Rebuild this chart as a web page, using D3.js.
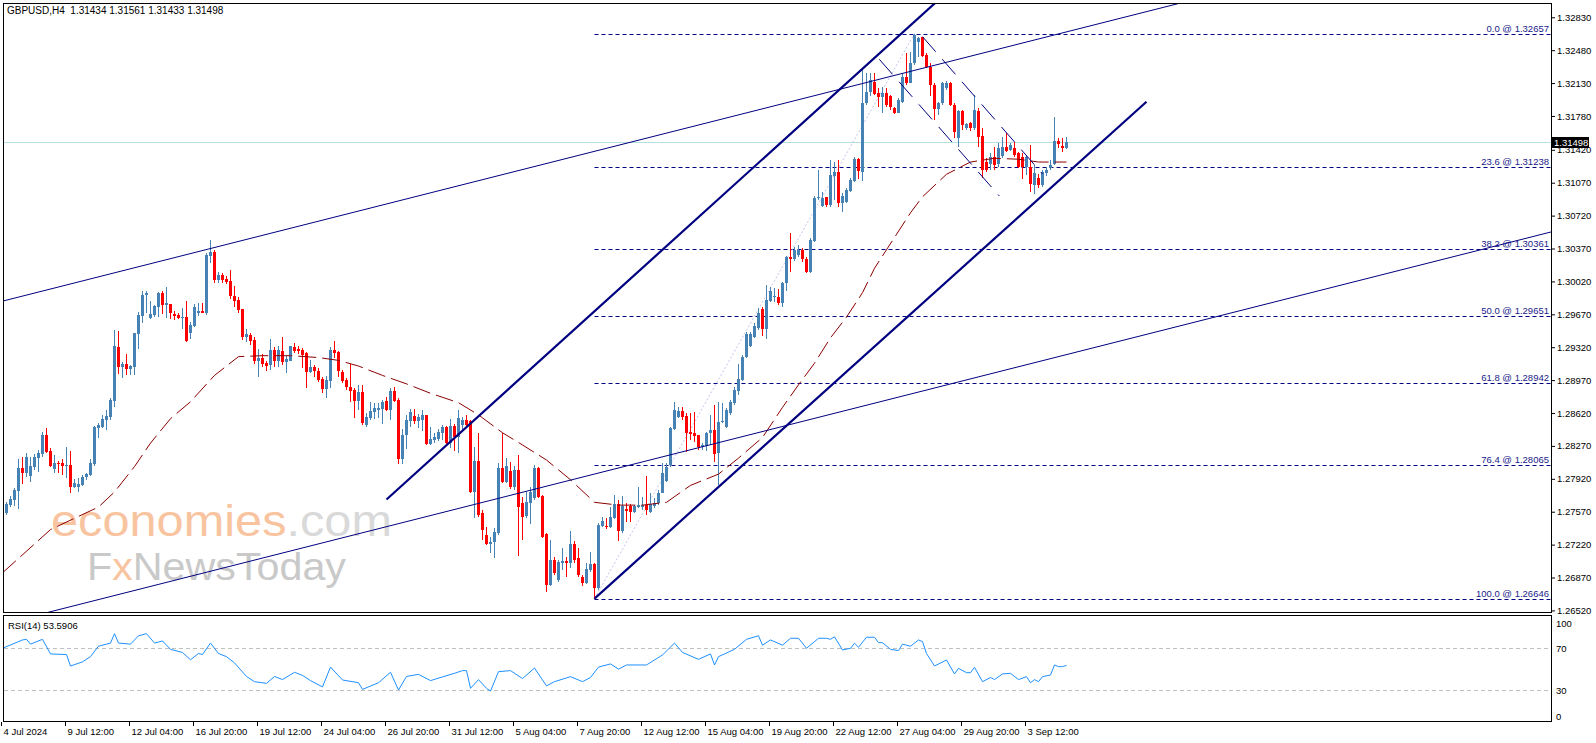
<!DOCTYPE html>
<html>
<head>
<meta charset="utf-8">
<title>GBPUSD,H4</title>
<script src="https://cdn.jsdelivr.net/npm/d3@7/dist/d3.min.js"></script>
<style>
  body { margin: 0; background: #fff; }
  svg { display: block; font-family: "Liberation Sans", Arial, sans-serif; }
</style>
</head>
<body>
<div id="chart"></div>
<script>
// ---- values (bar 0 = 4 Jul 2024 20:00) ----
const header = "GBPUSD,H4  1.31434 1.31561 1.31433 1.31498";

const opens = [
  1.2762,1.2756,1.2764,1.2769,1.2779,1.2804,1.2798,1.2795,1.2805,1.2814,
  1.2818,1.2839,1.2822,1.2802,1.2809,1.2809,1.2806,1.2807,1.2783,1.2783,
  1.2785,1.2794,1.2796,1.2808,1.2846,1.2847,1.2855,1.2858,1.2875,1.2932,
  1.2911,1.2914,1.2909,1.2911,1.2946,1.2965,1.2988,1.2963,1.2966,1.2975,
  1.2990,1.2977,1.2978,1.2967,1.2966,1.2963,1.2964,1.2947,1.2955,1.2968,
  1.2971,1.2968,1.3029,1.3033,1.3004,1.3009,1.3005,1.3002,1.2987,1.2982,
  1.2973,1.2943,1.2945,1.2940,1.2917,1.2921,1.2915,1.2913,1.2929,1.2917,
  1.2928,1.2916,1.2917,1.2932,1.2930,1.2929,1.2926,1.2906,1.2911,1.2907,
  1.2898,1.2888,1.2896,1.2929,1.2927,1.2906,1.2897,1.2890,1.2887,1.2875,
  1.2884,1.2849,1.2857,1.2863,1.2865,1.2866,1.2875,1.2865,1.2885,1.2876,
  1.2813,1.2839,1.2854,1.2859,1.2854,1.2855,1.2860,1.2829,1.2833,1.2834,
  1.2841,1.2847,1.2830,1.2848,1.2837,1.2849,1.2855,1.2854,1.2778,1.2811,
  1.2756,1.2732,1.2723,1.2725,1.2734,1.2804,1.2789,1.2800,1.2783,1.2801,
  1.2766,1.2752,1.2766,1.2772,1.2804,1.2774,1.2733,1.2679,1.2706,1.2684,
  1.2702,1.2705,1.2702,1.2723,1.2708,1.2688,1.2681,1.2695,1.2701,1.2676,
  1.2742,1.2742,1.2741,1.2750,1.2765,1.2737,1.2760,1.2763,1.2757,1.2762,
  1.2762,1.2764,1.2757,1.2763,1.2766,1.2777,1.2790,1.2807,1.2845,1.2858,
  1.2864,1.2859,1.2842,1.2841,1.2839,1.2826,1.2827,1.2841,1.2844,1.2819,
  1.2852,1.2847,1.2862,1.2873,1.2885,1.2897,1.2922,1.2933,1.2943,1.2952,
  1.2973,1.2951,1.2981,1.2985,1.2985,1.2979,1.3000,1.3028,1.3026,1.3030,
  1.3035,1.3026,1.3012,1.3045,1.3091,1.3082,1.3092,1.3083,1.3114,1.3118,
  1.3085,1.3087,1.3098,1.3109,1.3132,1.3118,1.3192,1.3203,1.3214,1.3202,
  1.3198,1.3202,1.3199,1.3187,1.3181,1.3193,1.3219,1.3213,1.3234,1.3257,
  1.3262,1.3243,1.3230,1.3211,1.3185,1.3192,1.3208,1.3213,1.3190,1.3155,
  1.3183,1.3165,1.3171,1.3165,1.3183,1.3157,1.3129,1.3127,1.3134,1.3127,
  1.3135,1.3145,1.3142,1.3144,1.3139,1.3134,1.3124,1.3124,1.3105,1.3112,
  1.3105,1.3117,1.3123,1.3127,1.3151,1.3146,1.31434
];
const highs = [
  1.2764,1.2767,1.2774,1.2782,1.2813,1.2815,1.2819,1.2815,1.2818,1.2823,
  1.2842,1.2846,1.2825,1.2817,1.2811,1.2813,1.2826,1.2822,1.2792,1.2793,
  1.2796,1.2798,1.2813,1.2848,1.2851,1.2860,1.2865,1.2878,1.2950,1.2949,
  1.2916,1.2925,1.2913,1.2947,1.2969,1.2992,1.2992,1.2981,1.2977,1.2991,
  1.2992,1.2996,1.2978,1.2971,1.2968,1.2974,1.2981,1.2959,1.2978,1.2979,
  1.2979,1.3032,1.3046,1.3035,1.3012,1.3011,1.3008,1.3014,1.2997,1.2985,
  1.2973,1.2951,1.2947,1.2943,1.2930,1.2925,1.2917,1.2941,1.2932,1.2933,
  1.2943,1.2923,1.2933,1.2937,1.2933,1.2931,1.2927,1.2918,1.2913,1.2910,
  1.2900,1.2901,1.2932,1.2939,1.2928,1.2908,1.2899,1.2914,1.2889,1.2892,
  1.2892,1.2862,1.2874,1.2873,1.2873,1.2876,1.2879,1.2889,1.2890,1.2878,
  1.2845,1.2860,1.2866,1.2866,1.2861,1.2865,1.2860,1.2847,1.2841,1.2845,
  1.2849,1.2848,1.2856,1.2850,1.2865,1.2858,1.2860,1.2855,1.2826,1.2841,
  1.2759,1.2741,1.2730,1.2740,1.2809,1.2841,1.2814,1.2810,1.2806,1.2817,
  1.2773,1.2778,1.2783,1.2807,1.2805,1.2775,1.2734,1.2727,1.2709,1.2706,
  1.2718,1.2709,1.2736,1.2726,1.2718,1.2690,1.2702,1.2714,1.2702,1.2745,
  1.2751,1.2750,1.2762,1.2775,1.2769,1.2774,1.2766,1.2765,1.2764,1.2783,
  1.2773,1.2795,1.2777,1.2772,1.2780,1.2809,1.2809,1.2847,1.2874,1.2868,
  1.2868,1.2862,1.2862,1.2863,1.2839,1.2830,1.2842,1.2860,1.2871,1.2874,
  1.2873,1.2867,1.2876,1.2890,1.2914,1.2924,1.2948,1.2948,1.2958,1.2974,
  1.2975,1.2998,1.2996,1.2995,1.2994,1.3001,1.3029,1.3054,1.3039,1.3041,
  1.3038,1.3028,1.3048,1.3093,1.3121,1.3097,1.3092,1.3131,1.3129,1.3131,
  1.3096,1.3101,1.3112,1.3134,1.3133,1.3227,1.3224,1.3224,1.3224,1.3208,
  1.3209,1.3208,1.3200,1.3188,1.3197,1.3224,1.3245,1.3246,1.32657,1.3262,
  1.3262,1.3245,1.3234,1.3213,1.3193,1.3214,1.3215,1.3214,1.3192,1.3184,
  1.3184,1.3170,1.3172,1.3200,1.3186,1.3165,1.3133,1.3139,1.3145,1.3149,
  1.3156,1.3160,1.3149,1.3150,1.3140,1.3139,1.3135,1.3147,1.3126,1.3116,
  1.3120,1.3124,1.3131,1.3177,1.3155,1.3155,1.31561
];
const lows = [
  1.2758,1.2754,1.2762,1.2763,1.2760,1.2787,1.2794,1.2789,1.2801,1.2799,
  1.2815,1.2819,1.2805,1.2798,1.2798,1.2796,1.2793,1.2777,1.2782,1.2778,
  1.2784,1.2791,1.2795,1.2806,1.2835,1.2846,1.2844,1.2855,1.2868,1.2904,
  1.2899,1.2902,1.2902,1.2902,1.2930,1.2958,1.2968,1.2962,1.2964,1.2964,
  1.2967,1.2963,1.2962,1.2961,1.2962,1.2951,1.2938,1.2941,1.2954,1.2965,
  1.2968,1.2966,1.3022,1.3000,1.3000,1.3000,1.2999,1.2983,1.2975,1.2968,
  1.2940,1.2938,1.2934,1.2914,1.2900,1.2911,1.2907,1.2908,1.2911,1.2911,
  1.2913,1.2905,1.2917,1.2926,1.2925,1.2910,1.2889,1.2905,1.2900,1.2895,
  1.2883,1.2878,1.2889,1.2921,1.2900,1.2894,1.2887,1.2874,1.2857,1.2865,
  1.2849,1.2847,1.2855,1.2856,1.2857,1.2850,1.2864,1.2855,1.2874,1.2808,
  1.2808,1.2824,1.2847,1.2850,1.2846,1.2843,1.2828,1.2828,1.2830,1.2832,
  1.2833,1.2829,1.2825,1.2822,1.2819,1.2844,1.2848,1.2777,1.2750,1.2751,
  1.2727,1.2722,1.2713,1.2708,1.2732,1.2788,1.2788,1.2781,1.2780,1.2710,
  1.2727,1.2750,1.2744,1.2769,1.2772,1.2729,1.2672,1.2678,1.2690,1.2682,
  1.2695,1.2688,1.2697,1.2702,1.2688,1.2678,1.2680,1.2693,1.26646,1.2674,
  1.2741,1.2739,1.2740,1.2749,1.2726,1.2734,1.2746,1.2746,1.2756,1.2761,
  1.2759,1.2754,1.2756,1.2761,1.2764,1.2777,1.2789,1.2805,1.2844,1.2857,
  1.2855,1.2821,1.2833,1.2831,1.2823,1.2823,1.2822,1.2828,1.2810,1.2785,
  1.2851,1.2846,1.2860,1.2871,1.2881,1.2896,1.2921,1.2932,1.2942,1.2950,
  1.2944,1.2941,1.2980,1.2980,1.2977,1.2975,1.2992,1.3012,1.3024,1.3028,
  1.3023,1.3011,1.3011,1.3044,1.3089,1.3081,1.3081,1.3081,1.3089,1.3081,
  1.3076,1.3085,1.3097,1.3108,1.3111,1.3109,1.3190,1.3199,1.3200,1.3188,
  1.3181,1.3188,1.3184,1.3180,1.3181,1.3192,1.3211,1.3213,1.3232,1.3241,
  1.3241,1.3229,1.3199,1.3174,1.3179,1.3190,1.3206,1.3189,1.3155,1.3145,
  1.3163,1.3163,1.3162,1.3163,1.3145,1.3112,1.3118,1.3121,1.3121,1.3124,
  1.3133,1.3140,1.3141,1.3134,1.3123,1.3111,1.3115,1.3097,1.3095,1.3101,
  1.3102,1.3114,1.3121,1.3126,1.3144,1.3140,1.31433
];
const closes = [
  1.2760,1.2765,1.2771,1.2780,1.2804,1.2798,1.2815,1.2806,1.2815,1.2819,
  1.2839,1.2821,1.2806,1.2809,1.2808,1.2806,1.2807,1.2783,1.2788,1.2787,
  1.2794,1.2797,1.2809,1.2847,1.2849,1.2856,1.2859,1.2876,1.2933,1.2911,
  1.2914,1.2909,1.2912,1.2947,1.2966,1.2988,1.2990,1.2967,1.2976,1.2990,
  1.2977,1.2979,1.2968,1.2965,1.2963,1.2964,1.2939,1.2956,1.2975,1.2971,
  1.2968,1.3030,1.3033,1.3004,1.3009,1.3004,1.3001,1.2987,1.2981,1.2972,
  1.2943,1.2946,1.2939,1.2917,1.2921,1.2914,1.2912,1.2929,1.2917,1.2929,
  1.2916,1.2919,1.2933,1.2928,1.2928,1.2924,1.2906,1.2911,1.2907,1.2897,
  1.2888,1.2897,1.2929,1.2926,1.2907,1.2896,1.2890,1.2885,1.2875,1.2884,
  1.2851,1.2858,1.2864,1.2867,1.2867,1.2874,1.2865,1.2885,1.2875,1.2813,
  1.2839,1.2855,1.2863,1.2854,1.2858,1.2860,1.2829,1.2834,1.2836,1.2842,
  1.2847,1.2830,1.2848,1.2837,1.2857,1.2855,1.2849,1.2778,1.2811,1.2754,
  1.2738,1.2723,1.2725,1.2735,1.2804,1.2789,1.2806,1.2783,1.2801,1.2762,
  1.2751,1.2767,1.2778,1.2804,1.2773,1.2730,1.2679,1.2706,1.2692,1.2704,
  1.2705,1.2702,1.2723,1.2706,1.2690,1.2681,1.2696,1.2701,1.2676,1.2743,
  1.2747,1.2741,1.2751,1.2765,1.2737,1.2763,1.2758,1.2757,1.2763,1.2764,
  1.2764,1.2759,1.2765,1.2766,1.2777,1.2798,1.2805,1.2846,1.2865,1.2864,
  1.2858,1.2841,1.2840,1.2838,1.2826,1.2828,1.2841,1.2844,1.2818,1.2852,
  1.2854,1.2865,1.2874,1.2887,1.2898,1.2922,1.2946,1.2946,1.2955,1.2968,
  1.2951,1.2982,1.2992,1.2987,1.2979,1.3000,1.3028,1.3026,1.3035,1.3035,
  1.3026,1.3012,1.3046,1.3091,1.3092,1.3091,1.3083,1.3115,1.3118,1.3085,
  1.3093,1.3099,1.3110,1.3132,1.3119,1.3192,1.3203,1.3216,1.3201,1.3198,
  1.3202,1.3190,1.3188,1.3181,1.3195,1.3219,1.3213,1.3234,1.3264,1.3261,
  1.3242,1.3230,1.3211,1.3185,1.3192,1.3213,1.3213,1.3190,1.3161,1.3183,
  1.3168,1.3169,1.3165,1.3184,1.3156,1.3121,1.3121,1.3134,1.3126,1.3144,
  1.3145,1.3141,1.3147,1.3137,1.3124,1.3124,1.3134,1.3106,1.3117,1.3105,
  1.3118,1.3120,1.3126,1.3151,1.3148,1.3144,1.31498
];

const timeLabels = ["4 Jul 2024", "9 Jul 12:00", "12 Jul 04:00", "16 Jul 20:00", "19 Jul 12:00",
  "24 Jul 04:00", "26 Jul 20:00", "31 Jul 12:00", "5 Aug 04:00", "7 Aug 20:00", "12 Aug 12:00",
  "15 Aug 04:00", "19 Aug 20:00", "22 Aug 12:00", "27 Aug 04:00", "29 Aug 20:00", "3 Sep 12:00"];
const timeLabelBars = [0, 16, 32, 48, 64, 80, 96, 112, 128, 144, 160, 176, 192, 208, 224, 240, 256];

const priceTicks = [1.32830, 1.32480, 1.32130, 1.31780, 1.31420, 1.31070, 1.30720, 1.30370, 1.30020,
  1.29670, 1.29320, 1.28970, 1.28620, 1.28270, 1.27920, 1.27570, 1.27220, 1.26870, 1.26520];
const bidPrice = 1.31498;

const fibRatios = [0.0, 23.6, 38.2, 50.0, 61.8, 76.4, 100.0];
const fibPrices = [1.32657, 1.31238, 1.30361, 1.29651, 1.28942, 1.28065, 1.26646];
const fibAnchors = [[148, 1.26646], [228, 1.32657]];

// moving average (dashed dark red), read at these bars
const maBars = [0, 12, 24, 28, 33, 37, 42, 47, 53, 59, 65, 72, 79, 84, 89, 95, 101, 107, 114, 119,
  125, 130, 136, 142, 148, 154, 160, 166, 172, 179, 184, 190, 195, 199, 203, 207, 211, 215, 218,
  227, 230, 236, 242, 248, 254, 259, 266];
const maValues = [1.2692, 1.2738, 1.2762, 1.2778, 1.2805, 1.2830, 1.2856, 1.2874, 1.2902, 1.2922,
  1.2923, 1.2923, 1.2921, 1.2918, 1.2912, 1.2902, 1.2893, 1.2883, 1.2873, 1.2860, 1.2841, 1.2828,
  1.2812, 1.2791, 1.2767, 1.2764, 1.2764, 1.2767, 1.2785, 1.2797, 1.2814, 1.2836, 1.2868, 1.2892,
  1.2915, 1.2942, 1.2964, 1.2990, 1.3016, 1.3075, 1.3092, 1.3116, 1.3129, 1.3133, 1.3132, 1.3129,
  1.3129];

// RSI(14) read at these bars
const rsiBars = [0, 5, 6, 7, 10, 12, 16, 17, 20, 22, 24, 27, 28, 29, 32, 34, 36, 38, 40, 42,
  45, 47, 49, 50, 52, 54, 56, 58, 61, 63, 66, 68, 70, 73, 75, 77, 80, 82, 85, 89,
  90, 94, 97, 99, 101, 104, 107, 110, 113, 115, 116, 117, 119, 121, 122, 124, 127, 130, 133, 136,
  138, 142, 145, 147, 149, 152, 154, 156, 161, 165, 168, 170, 174, 177, 178, 179, 183, 186, 189, 190,
  192, 195, 197, 199, 201, 204, 206, 207, 208, 210, 212, 213, 214, 216, 218, 219, 220, 222, 224, 225,
  227, 229, 230, 231, 233, 236, 238, 239, 241, 242, 243, 245, 247, 248, 250, 252, 254, 256, 257, 258,
  259, 260, 262, 263, 264, 265, 266];
const rsiValues = [70, 78, 78.6, 74, 78.6, 64.6, 64, 53, 57, 62, 72, 75, 84, 75, 74, 82, 84, 75, 77, 69,
  66, 59, 65, 64, 75, 65, 62, 56, 43, 38, 36.4, 43, 40, 47, 44, 39, 33, 52, 39.6, 37,
  30.6, 37, 47, 30, 43, 45, 39, 42.6, 46, 48.6, 48.6, 31.6, 40, 31.6, 29, 47.6, 48.6, 41, 51, 34,
  38, 42.8, 38, 42, 52, 55, 50, 54, 54, 63.6, 75, 66, 59.4, 64.6, 54, 62, 69, 78.6, 82, 73,
  78, 73, 79.6, 79.6, 70, 79.6, 79.6, 78.6, 81, 68.4, 70, 74.8, 71, 80.6, 80.6, 75.4, 75.4, 69, 67.8, 74,
  72, 78, 76.4, 65, 53, 58.8, 45.4, 50.8, 46.6, 46.6, 51.8, 38, 42, 40, 45.4, 46, 40, 42.8, 37, 40,
  38, 42.8, 44.4, 54, 52.4, 52.4, 53.5906];
const rsiLevels = [70, 30];
const rsiTicks = [100, 70, 30, 0];

// trend line anchors [bar, price]
const wideChannelTop = [[0, 1.29810], [264, 1.32653]];
const wideChannelBottom = [[0, 1.26377], [264, 1.29220]];
const steepChannelTop = [[96, 1.27700], [200, 1.31705]];
const steepChannelBottom = [[148, 1.26646], [286, 1.31931]];
const flagTop = [[230, 1.32624], [260, 1.31163]];
const flagBottom = [[219.2, 1.32383], [249.2, 1.30929]];

// ---- layout ----
const width = 1596, height = 743;
const left = 4, right = 1551;
const mainTop = 4, mainBottom = 612;
const rsiTop = 616, rsiBottom = 722;
const navy = "#000080";

const x = d3.scaleLinear().domain([0, 387]).range([2.5, 1550.5]);
const y = d3.scaleLinear().domain([1.26500, 1.32968]).range([612.3, 4.3]);
const yRsi = d3.scaleLinear().domain([0, 100]).range([721.3, 617]);

const svg = d3.select("#chart").append("svg")
    .attr("width", width)
    .attr("height", height);

svg.append("rect").attr("width", width).attr("height", height).attr("fill", "#fff");

const defs = svg.append("defs");
defs.append("clipPath").attr("id", "mainClip")
    .append("rect").attr("x", left).attr("y", mainTop)
    .attr("width", right - left).attr("height", mainBottom - mainTop);
defs.append("clipPath").attr("id", "rsiClip")
    .append("rect").attr("x", left).attr("y", rsiTop)
    .attr("width", right - left).attr("height", rsiBottom - rsiTop);

const main = svg.append("g").attr("clip-path", "url(#mainClip)");

// watermark
const wm1 = main.append("text")
    .attr("x", 51).attr("y", 536)
    .attr("font-size", 44)
    .attr("textLength", 341).attr("lengthAdjust", "spacingAndGlyphs");
wm1.append("tspan").attr("fill", "#f8c4a0").text("economies");
wm1.append("tspan").attr("fill", "#d9d9d9").text(".com");

const wm2 = main.append("text")
    .attr("x", 87).attr("y", 580)
    .attr("font-size", 38)
    .attr("textLength", 259).attr("lengthAdjust", "spacingAndGlyphs");
wm2.append("tspan").attr("fill", "#c9c9c9").text("F");
wm2.append("tspan").attr("fill", "#f8c4a0").text("x");
wm2.append("tspan").attr("fill", "#c9c9c9").text("NewsToday");

// bid line
main.append("line")
    .attr("x1", left).attr("x2", right)
    .attr("y1", Math.round(y(bidPrice)) + 0.5).attr("y2", Math.round(y(bidPrice)) + 0.5)
    .attr("stroke", "#b4e0e0").attr("stroke-width", 1);

// fibonacci levels
const fibStart = x(fibAnchors[0][0]);
main.selectAll("line.fib")
    .data(fibPrices)
    .enter()
    .append("line")
    .attr("class", "fib")
    .attr("x1", fibStart).attr("x2", right)
    .attr("y1", d => Math.round(y(d)) + 0.5)
    .attr("y2", d => Math.round(y(d)) + 0.5)
    .attr("stroke", navy)
    .attr("stroke-width", 1)
    .attr("stroke-dasharray", "4,3");

main.selectAll("text.fib")
    .data(fibPrices)
    .enter()
    .append("text")
    .attr("class", "fib")
    .attr("x", right - 2)
    .attr("y", d => Math.round(y(d)) - 2)
    .attr("text-anchor", "end")
    .attr("font-size", 9.5)
    .attr("fill", "#1a1a8a")
    .text((d, i) => fibRatios[i].toFixed(1) + " @ " + d.toFixed(5));

// fib base line (dotted)
main.append("line")
    .attr("x1", x(fibAnchors[0][0])).attr("y1", y(fibAnchors[0][1]))
    .attr("x2", x(fibAnchors[1][0])).attr("y2", y(fibAnchors[1][1]))
    .attr("stroke", "#c4c4ee")
    .attr("stroke-width", 1)
    .attr("stroke-dasharray", "2,2");

// candles
const bars = d3.range(opens.length);
const bull = i => closes[i] >= opens[i];
const candleColor = i => bull(i) ? "#4682b4" : "#ff0000";

const candles = main.append("g").attr("shape-rendering", "crispEdges");

candles.selectAll("line.wick")
    .data(bars)
    .enter()
    .append("line")
    .attr("class", "wick")
    .attr("x1", i => x(i)).attr("x2", i => x(i))
    .attr("y1", i => y(Math.max(highs[i], opens[i], closes[i])))
    .attr("y2", i => y(Math.min(lows[i], opens[i], closes[i])))
    .attr("stroke", candleColor)
    .attr("stroke-width", 1);

candles.selectAll("rect.body")
    .data(bars)
    .enter()
    .append("rect")
    .attr("class", "body")
    .attr("x", i => x(i) - 1.5)
    .attr("width", 3)
    .attr("y", i => y(Math.max(opens[i], closes[i])))
    .attr("height", i => Math.max(1, Math.abs(y(opens[i]) - y(closes[i]))))
    .attr("fill", candleColor);

// moving average
const maLine = d3.line()
    .x((d, i) => x(maBars[i]))
    .y(d => y(d));

main.append("path")
    .datum(maValues)
    .attr("d", maLine)
    .attr("fill", "none")
    .attr("stroke", "#8b0000")
    .attr("stroke-width", 1)
    .attr("stroke-dasharray", "18,6");

// trend lines
function priceAt(anchors, b) {
    let [[b0, p0], [b1, p1]] = anchors;
    return p0 + (p1 - p0) * (b - b0) / (b1 - b0);
}

const trendLines = [
    {anchors: wideChannelTop, from: -5, to: 400, w: 1, dash: null},
    {anchors: wideChannelBottom, from: -5, to: 400, w: 1, dash: null},
    {anchors: steepChannelTop, from: 96, to: 400, w: 2.2, dash: null},
    {anchors: steepChannelBottom, from: 148, to: 286, w: 2.2, dash: null},
    {anchors: flagTop, from: 230, to: 260, w: 1, dash: "20,10"},
    {anchors: flagBottom, from: 219.2, to: 249.2, w: 1, dash: "20,10"}
];

main.selectAll("line.trend")
    .data(trendLines)
    .enter()
    .append("line")
    .attr("class", "trend")
    .attr("x1", d => x(d.from))
    .attr("y1", d => y(priceAt(d.anchors, d.from)))
    .attr("x2", d => x(d.to))
    .attr("y2", d => y(priceAt(d.anchors, d.to)))
    .attr("stroke", navy)
    .attr("stroke-width", d => d.w)
    .attr("stroke-dasharray", d => d.dash);

// header text
svg.append("text")
    .attr("x", 7).attr("y", 14)
    .attr("font-size", 10)
    .attr("fill", "#000")
    .attr("xml:space", "preserve")
    .style("white-space", "pre")
    .text(header);

// price axis
const yAxis = d3.axisRight(y)
    .tickValues(priceTicks)
    .tickFormat(d3.format(".5f"))
    .tickSize(4)
    .tickPadding(2);

svg.append("g")
    .attr("transform", "translate(" + right + ",0)")
    .call(yAxis)
    .attr("font-size", 9.5)
    .attr("font-family", "Liberation Sans, Arial, sans-serif")
    .call(g => g.select(".domain").remove());

// bid label box
svg.append("rect")
    .attr("x", right + 1).attr("y", Math.round(y(bidPrice)) - 5)
    .attr("width", 37).attr("height", 11)
    .attr("fill", "#000");
svg.append("text")
    .attr("x", right + 3).attr("y", Math.round(y(bidPrice)) + 4)
    .attr("font-size", 9.5)
    .attr("fill", "#fff")
    .text(bidPrice.toFixed(5));

// RSI panel
const rsiG = svg.append("g").attr("clip-path", "url(#rsiClip)");

rsiG.selectAll("line.level")
    .data(rsiLevels)
    .enter()
    .append("line")
    .attr("class", "level")
    .attr("x1", left).attr("x2", right)
    .attr("y1", d => Math.round(yRsi(d)) + 0.5)
    .attr("y2", d => Math.round(yRsi(d)) + 0.5)
    .attr("stroke", "#c0c0c0")
    .attr("stroke-width", 1)
    .attr("stroke-dasharray", "4,3");

const rsiLine = d3.line()
    .x((d, i) => x(rsiBars[i]))
    .y(d => yRsi(d));

rsiG.append("path")
    .datum(rsiValues)
    .attr("d", rsiLine)
    .attr("fill", "none")
    .attr("stroke", "#1e90ff")
    .attr("stroke-width", 1);

svg.append("text")
    .attr("x", 8).attr("y", 629)
    .attr("font-size", 9.5)
    .attr("fill", "#000")
    .text("RSI(14) " + rsiValues[rsiValues.length - 1].toFixed(4));

svg.selectAll("text.rsiTick")
    .data(rsiTicks)
    .enter()
    .append("text")
    .attr("class", "rsiTick")
    .attr("x", right + 5)
    .attr("y", d => Math.max(rsiTop + 7, Math.min(rsiBottom - 6, yRsi(d))) + 3.5)
    .attr("font-size", 9.5)
    .attr("fill", "#000")
    .text(d => d);

// frames
svg.append("rect")
    .attr("x", left - 0.5).attr("y", mainTop - 0.5)
    .attr("width", right - left + 1).attr("height", mainBottom - mainTop + 1)
    .attr("fill", "none").attr("stroke", "#000").attr("stroke-width", 1);
svg.append("rect")
    .attr("x", left - 0.5).attr("y", rsiTop - 0.5)
    .attr("width", right - left + 1).attr("height", rsiBottom - rsiTop)
    .attr("fill", "none").attr("stroke", "#000").attr("stroke-width", 1);

// time axis
const timeG = svg.append("g");
timeG.selectAll("line")
    .data(timeLabelBars)
    .enter()
    .append("line")
    .attr("x1", d => x(d) - 1).attr("x2", d => x(d) - 1)
    .attr("y1", rsiBottom).attr("y2", rsiBottom + 4)
    .attr("stroke", "#000");
timeG.selectAll("text")
    .data(timeLabelBars)
    .enter()
    .append("text")
    .attr("x", d => x(d) + 1)
    .attr("y", 735)
    .attr("font-size", 9.5)
    .attr("fill", "#000")
    .text((d, i) => timeLabels[i]);
</script>
</body>
</html>
